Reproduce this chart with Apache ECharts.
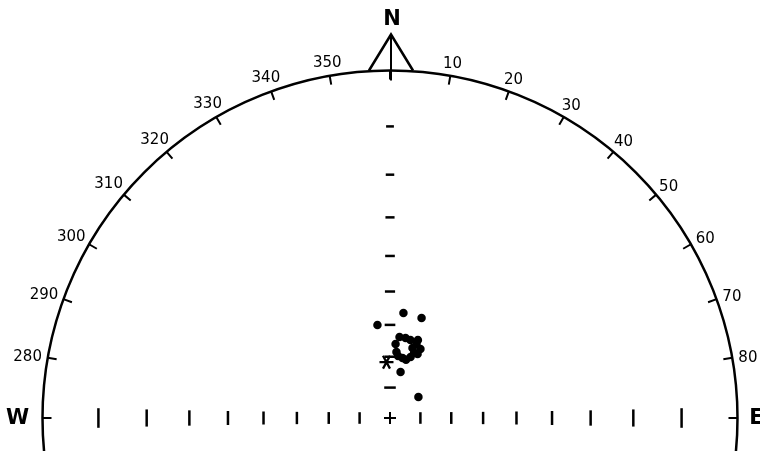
<!DOCTYPE html>
<html>
<head>
<meta charset="utf-8">
<script src="https://cdn.jsdelivr.net/npm/echarts@6/dist/echarts.min.js"></script>
<style>html,body{margin:0;padding:0;background:#fff}#c{width:760px;height:451px}</style>
</head>
<body>
<div id="c"></div>
<script>
// ---- data (declination / inclination in degrees) ----
const siteDec = [7.3, 17.5, 352.3, 12.9, 53.6, 6.7, 11.0, 14.7, 19.7, 23.8, 23.3, 18.6, 11.8, 5.6, 4.3, 17.8, 19.7, 20.3, 15.4, 7.4];
const siteInc = [56.1, 56.4, 59.8, 74.5, 78.4, 63.6, 63.6, 63.9, 64.5, 65.5, 67.3, 69.0, 70.0, 68.4, 65.9, 66.1, 63.2, 67.4, 70.3, 69.6];
const meanDec = [10.8];
const meanInc = [66.5];
const refDec = [356.4];
const refInc = [71.7];
const dipTicks = [10, 20, 30, 40, 50, 60, 70, 80];
const labelAzimuths = [270, 280, 290, 300, 310, 320, 330, 340, 350, 10, 20, 30, 40, 50, 60, 70, 80, 90];
const labelTexts = ['W', '280', '290', '300', '310', '320', '330', '340', '350', '10', '20', '30', '40', '50', '60', '70', '80', 'E'];

// ---- layout ----
const CX = 390, CY = 418, R = 347.5;
const INK = '#000';

// Wulff (equal-angle) projection: normalized radius
function proj(inc) { return Math.tan((90 - inc) / 2 * Math.PI / 180); }

const sitePts = siteDec.map((d, i) => [proj(siteInc[i]), d]);
const meanPts = meanDec.map((d, i) => [proj(meanInc[i]), d]);
const refPts = refDec.map((d, i) => [proj(refInc[i]), d]);
const ewTicks = [];
dipTicks.forEach(t => { ewTicks.push([proj(t), 90]); ewTicks.push([proj(t), 270]); });
const nTicks = dipTicks.map(t => [proj(t), 0]);

// label anchors placed just outside the primitive circle
function labelGap(az, txt) {
  if (txt === 'W') return 25;
  if (txt === 'E') return 19;
  const a = az * Math.PI / 180;
  const hw = txt.length * 4.6, hh = 5;
  return 6 + Math.abs(Math.sin(a)) * hw + Math.abs(Math.cos(a)) * hh;
}
const labelPts = labelAzimuths.map((az, i) => {
  const txt = labelTexts[i];
  const isLetter = txt === 'E' || txt === 'W';
  return {
    name: txt,
    value: [1 + labelGap(az, txt) / R, az],
    label: {offset: [0, isLetter ? 1 : 3.5 * Math.abs(Math.sin(az * Math.PI / 180))]}
  };
});

const starPath = 'path://M0,5L12,5L12,7L0,7Z M3.866,0.304L9.866,10.696L8.134,11.696L2.134,1.304Z M9.866,1.304L3.866,11.696L2.134,10.696L8.134,0.304Z';
const plusPath = 'path://M5,0L7,0L7,5L12,5L12,7L7,7L7,12L5,12L5,7L0,7L0,5L5,5Z';
const solid = {color: INK, opacity: 1};

const chart = echarts.init(document.getElementById('c'), null, {renderer: 'canvas'});
chart.setOption({
  animation: false,
  backgroundColor: '#fff',
  polar: {center: [CX, CY], radius: R},
  angleAxis: {
    type: 'value', min: 0, max: 360, interval: 10, startAngle: 90, clockwise: true,
    axisLine: {lineStyle: {color: INK, width: 2.5}},
    axisTick: {inside: true, length: 9, lineStyle: {color: INK, width: 2}},
    splitLine: {show: false},
    axisLabel: {show: false}
  },
  radiusAxis: {
    type: 'value', min: 0, max: 1,
    axisLine: {show: false}, axisTick: {show: false}, axisLabel: {show: false}, splitLine: {show: false}
  },
  series: [
    {type: 'scatter', coordinateSystem: 'polar', data: ewTicks, symbol: 'rect',
     symbolSize: v => [2.5, 11.5 * (1 + v[0] * v[0])], itemStyle: solid, silent: true},
    {type: 'scatter', coordinateSystem: 'polar', data: nTicks, symbol: 'rect',
     symbolSize: v => [12 - 5 * v[0], 2.5], itemStyle: solid, silent: true},
    {type: 'scatter', coordinateSystem: 'polar', data: [[0, 0]], symbol: plusPath,
     symbolSize: 12, itemStyle: solid, silent: true},
    {type: 'scatter', coordinateSystem: 'polar', data: sitePts, symbol: 'circle',
     symbolSize: 8.5, itemStyle: solid},
    {type: 'scatter', coordinateSystem: 'polar', data: meanPts, symbol: 'circle',
     symbolSize: 3, itemStyle: {color: '#fff', opacity: 1}},
    {type: 'scatter', coordinateSystem: 'polar', data: refPts, symbol: starPath,
     symbolSize: 14, itemStyle: solid},
    {type: 'scatter', coordinateSystem: 'polar', data: labelPts, symbol: 'circle', symbolSize: 1,
     clip: false, silent: true,
     itemStyle: {color: 'rgba(255,255,255,0)', opacity: 1},
     label: {
       show: true, position: 'inside', color: INK, fontFamily: 'DejaVu Sans', fontSize: 15,
       align: 'center', verticalAlign: 'middle',
       formatter: p => (p.name === 'E' || p.name === 'W') ? '{big|' + p.name + '}' : p.name,
       rich: {big: {fontFamily: 'DejaVu Sans', fontWeight: 'bold', fontSize: 21, color: INK}}
     }}
  ],
  graphic: [
    {type: 'polyline', shape: {points: [[CX - 21, CY - R], [CX + 1, CY - R - 36], [CX + 23, CY - R]]},
     style: {stroke: INK, lineWidth: 2.5, fill: null}},
    {type: 'line', shape: {x1: CX + 1, y1: CY - R - 36, x2: CX + 1, y2: CY - R + 10},
     style: {stroke: INK, lineWidth: 2}},
    {type: 'text', x: CX + 2, y: 20,
     style: {text: 'N', fill: INK, font: 'bold 21px "DejaVu Sans"', align: 'center', verticalAlign: 'middle'}}
  ]
});
</script>
</body>
</html>
